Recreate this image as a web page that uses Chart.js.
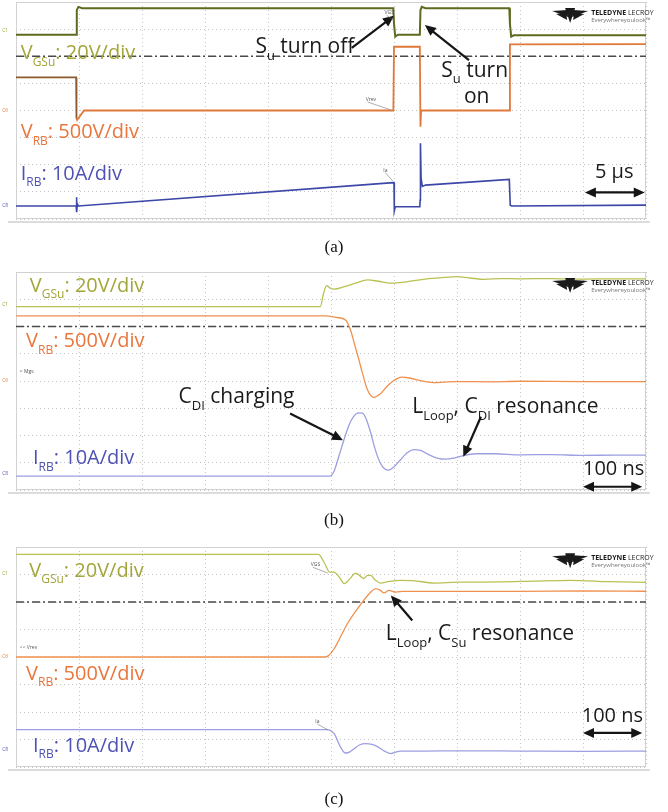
<!DOCTYPE html>
<html>
<head>
<meta charset="utf-8">
<title>Formas de onda de conmutacion de Su</title>
<script src="https://cdn.jsdelivr.net/npm/chart.js@4.4.0/dist/chart.umd.min.js"></script>
<style>
body { margin: 0; background: #fff; }
#pagina { position: relative; width: 668px; height: 812px; overflow: hidden; background: #fff; }
#pagina canvas { position: absolute; left: 0; }
.pie { position: absolute; left: 0; width: 668px; text-align: center; font-family: "Liberation Serif", "Times New Roman", serif; font-size: 17px; line-height: 20px; color: #111; }
.borde { position: absolute; height: 2px; background: #dcdcdc; }
</style>
</head>
<body>
<div id="pagina">
	<canvas id="grafica-a" width="668" height="232" style="top:0px"></canvas>
	<div class="borde" style="left:8px; width:642px; top:221px"></div>
	<div class="pie" style="top:237px">(a)</div>

	<canvas id="grafica-b" width="668" height="236" style="top:262px"></canvas>
	<div class="borde" style="left:8px; width:642px; top:492px"></div>
	<div class="pie" style="top:510px">(b)</div>

	<canvas id="grafica-c" width="668" height="236" style="top:539px"></canvas>
	<div class="borde" style="left:8px; width:642px; top:769px"></div>
	<div class="pie" style="top:789px">(c)</div>
</div>

<script>
// all values in screen divisions: x 0..10, y -4..4

var nivelReferencia = 2;

// (a) 5 us/div
var aVgsT = [0, 0.955, 0.965, 0.99, 1.05, 5.99, 6.0, 6.02, 6.06, 6.41, 6.42, 6.44, 6.5, 7.83, 7.84, 7.86, 7.9, 10];
var aVgsV = [2.79, 2.79, 3.7, 3.82, 3.77, 3.77, 3.2, 2.72, 2.79, 2.79, 3.7, 3.82, 3.77, 3.77, 3.2, 2.72, 2.77, 2.77];

var aVrbT = [0, 0.955, 0.96, 0.97, 1.08, 5.99, 6.0, 6.02, 6.41, 6.42, 6.43, 6.47, 7.83, 7.84, 7.86, 10];
var aVrbV = [1.22, 1.22, -0.3, -0.35, 0, 0, 2.35, 2.35, 2.35, -0.6, 0, 0, 0, 2.44, 2.44, 2.45];

var aIrbT = [0, 0.955, 0.96, 0.965, 0.975, 0.99, 5.99, 6.0, 6.005, 6.02, 6.41, 6.415, 6.42, 6.43, 6.45, 6.5, 7.83, 7.84, 7.845, 7.87, 10];
var aIrbV = [-3.52, -3.52, -3.2, -3.75, -3.45, -3.52, -2.66, -2.66, -3.7, -3.55, -3.55, -3.3, -1.21, -2.5, -2.8, -2.75, -2.54, -2.54, -3.49, -3.52, -3.49];

// (b) 100 ns/div
var bVgsT = [0, 4.83, 4.88, 4.93, 4.98, 5.05, 5.2, 5.4, 5.58, 5.75, 5.95, 6.2, 6.5, 6.8, 7.0, 7.2, 7.43, 7.7, 8.0, 8.5, 9.0, 9.5, 10];
var bVgsV = [2.73, 2.73, 3.2, 3.5, 3.42, 3.37, 3.45, 3.6, 3.71, 3.66, 3.59, 3.64, 3.74, 3.8, 3.83, 3.78, 3.73, 3.76, 3.75, 3.76, 3.74, 3.75, 3.75];

var bVrbT = [0, 4.9, 5.1, 5.23, 5.31, 5.37, 5.44, 5.5, 5.58, 5.68, 5.78, 5.88, 5.97, 6.05, 6.13, 6.25, 6.37, 6.5, 6.63, 6.8, 7.0, 7.5, 8, 9, 10];
var bVrbV = [2.39, 2.39, 2.33, 2.24, 1.87, 1.38, 0.8, 0.28, -0.33, -0.6, -0.48, -0.22, -0.03, 0.09, 0.14, 0.11, 0.04, -0.02, -0.06, -0.04, -0.02, -0.03, -0.01, -0.02, -0.02];

var bIrbT = [0, 4.98, 5.05, 5.12, 5.2, 5.28, 5.36, 5.44, 5.5, 5.56, 5.63, 5.7, 5.78, 5.85, 5.92, 6.0, 6.1, 6.2, 6.32, 6.42, 6.55, 6.7, 6.82, 6.95, 7.1, 7.3, 7.6, 8.0, 8.5, 9.0, 9.5, 10];
var bIrbV = [-3.49, -3.49, -3.3, -2.8, -2.2, -1.65, -1.3, -1.17, -1.18, -1.4, -1.9, -2.5, -3.0, -3.22, -3.27, -3.15, -2.9, -2.65, -2.52, -2.55, -2.7, -2.84, -2.87, -2.83, -2.74, -2.67, -2.67, -2.71, -2.7, -2.73, -2.72, -2.72];

// (c) 100 ns/div
var cVgsT = [0, 4.8, 4.9, 4.98, 5.05, 5.13, 5.21, 5.3, 5.39, 5.46, 5.52, 5.58, 5.63, 5.7, 5.79, 5.9, 6.1, 6.3, 6.63, 7.0, 7.69, 8.2, 8.8, 9.4, 10];
var cVgsV = [3.73, 3.73, 3.4, 3.09, 3.09, 2.91, 2.67, 2.85, 3.05, 2.95, 2.85, 2.97, 2.97, 2.8, 2.69, 2.74, 2.79, 2.78, 2.69, 2.72, 2.73, 2.76, 2.79, 2.74, 2.71];

var cVrbT = [0, 4.9, 4.96, 5.05, 5.26, 5.52, 5.64, 5.71, 5.78, 5.84, 5.92, 6.03, 6.15, 6.5, 7, 8, 9, 10];
var cVrbV = [0, 0, 0.05, 0.3, 1.21, 2.06, 2.38, 2.49, 2.43, 2.33, 2.42, 2.36, 2.39, 2.39, 2.39, 2.39, 2.4, 2.39];

var cIrbT = [0, 4.93, 5.05, 5.15, 5.23, 5.3, 5.37, 5.45, 5.55, 5.65, 5.73, 5.85, 5.95, 6.03, 6.1, 6.5, 7, 8, 9, 10];
var cIrbV = [-2.64, -2.64, -2.79, -3.27, -3.49, -3.45, -3.33, -3.2, -3.15, -3.18, -3.25, -3.42, -3.51, -3.46, -3.42, -3.42, -3.41, -3.42, -3.43, -3.42];

var FUENTE = '"Open Sans", "Noto Sans", sans-serif';
var colorVgsTxt = '#a3a63a';
var colorVrbTxt = '#e9763c';
var colorIrbTxt = '#4e52b4';

function puntos(t, v)
{
	return t.map(function (x, i) { return { x: x, y: v[i] }; });
}

function etiquetasCanal(xVgs, yVgs, xVrb, yVrb, xIrb, yIrb)
{
	return [
		{ tipo: 'texto', x: xVgs, y: yVgs, color: colorVgsTxt, size: 20, partes: [{ t: 'V' }, { t: 'GSu', sub: true }, { t: ': 20V/div' }] },
		{ tipo: 'texto', x: xVrb, y: yVrb, color: colorVrbTxt, size: 20, partes: [{ t: 'V' }, { t: 'RB', sub: true }, { t: ': 500V/div' }] },
		{ tipo: 'texto', x: xIrb, y: yIrb, color: colorIrbTxt, size: 20, partes: [{ t: 'I' }, { t: 'RB', sub: true }, { t: ': 10A/div' }] }
	];
}

function dibujaTexto(ctx, partes, x, y, size, color)
{
	var cx = x;
	ctx.fillStyle = color;
	ctx.textBaseline = 'alphabetic';
	ctx.textAlign = 'left';
	for (var i = 0; i < partes.length; i++)
	{
		var p = partes[i];
		var s = p.sub ? Math.round(size * 0.62) : size;
		ctx.font = (p.bold ? 'bold ' : '') + s + 'px ' + FUENTE;
		ctx.fillText(p.t, cx, y + (p.sub ? size * 0.32 : 0));
		cx += ctx.measureText(p.t).width;
	}
}

function punta(ctx, xa, ya, xb, yb)
{
	var ang = Math.atan2(yb - ya, xb - xa);
	var largo = 11, ancho = 5;
	ctx.beginPath();
	ctx.moveTo(xb, yb);
	ctx.lineTo(xb - largo * Math.cos(ang) + ancho * Math.sin(ang), yb - largo * Math.sin(ang) - ancho * Math.cos(ang));
	ctx.lineTo(xb - largo * Math.cos(ang) - ancho * Math.sin(ang), yb - largo * Math.sin(ang) + ancho * Math.cos(ang));
	ctx.closePath();
	ctx.fill();
}

function dibujaFlecha(ctx, x1, y1, x2, y2, doble)
{
	var ang = Math.atan2(y2 - y1, x2 - x1);
	ctx.save();
	ctx.strokeStyle = '#151515';
	ctx.fillStyle = '#151515';
	ctx.lineWidth = 2.2;
	ctx.beginPath();
	ctx.moveTo(doble ? x1 + 8 * Math.cos(ang) : x1, doble ? y1 + 8 * Math.sin(ang) : y1);
	ctx.lineTo(x2 - 8 * Math.cos(ang), y2 - 8 * Math.sin(ang));
	ctx.stroke();
	punta(ctx, x1, y1, x2, y2);
	if (doble)
		punta(ctx, x2, y2, x1, y1);
	ctx.restore();
}

function dibujaLogo(ctx, x, y)
{
	ctx.save();
	ctx.fillStyle = '#1a1a1a';
	ctx.beginPath();
	ctx.moveTo(x, y + 3); ctx.lineTo(x + 15, y + 2); ctx.lineTo(x + 16, y + 9); ctx.closePath(); ctx.fill();
	ctx.beginPath();
	ctx.moveTo(x + 36, y + 3); ctx.lineTo(x + 21, y + 2); ctx.lineTo(x + 20, y + 9); ctx.closePath(); ctx.fill();
	ctx.beginPath();
	ctx.moveTo(x + 13, y); ctx.lineTo(x + 23, y); ctx.lineTo(x + 18, y + 15); ctx.closePath(); ctx.fill();
	ctx.beginPath();
	ctx.moveTo(x + 4, y + 6); ctx.lineTo(x + 14, y + 5); ctx.lineTo(x + 15, y + 12); ctx.closePath(); ctx.fill();
	ctx.beginPath();
	ctx.moveTo(x + 32, y + 6); ctx.lineTo(x + 22, y + 5); ctx.lineTo(x + 21, y + 12); ctx.closePath(); ctx.fill();
	ctx.textAlign = 'left';
	ctx.textBaseline = 'alphabetic';
	ctx.font = 'bold 7px ' + FUENTE;
	ctx.fillText('TELEDYNE', x + 39, y + 7);
	var w = ctx.measureText('TELEDYNE ').width;
	ctx.font = '7px ' + FUENTE;
	ctx.fillText('LECROY', x + 39 + w, y + 7);
	ctx.fillStyle = '#777';
	ctx.font = '6px ' + FUENTE;
	ctx.fillText('Everywhereyoulook\u2122', x + 39, y + 14);
	ctx.restore();
}

var pluginAnotaciones = {
	id: 'anotaciones',
	beforeDatasetsDraw: function (chart)
	{
		var a = chart.chartArea;
		var ctx = chart.ctx;
		ctx.save();
		ctx.strokeStyle = '#d2d2d2';
		ctx.lineWidth = 1;
		ctx.strokeRect(a.left + 0.5, a.top + 0.5, a.right - a.left - 1, a.bottom - a.top - 1);
		ctx.restore();
	},
	afterDatasetsDraw: function (chart)
	{
		var items = chart.options.plugins.anotaciones.items;
		var sx = chart.scales.x, sy = chart.scales.y;
		var ctx = chart.ctx;
		ctx.save();
		for (var i = 0; i < items.length; i++)
		{
			var it = items[i];
			if (it.tipo === 'texto')
				dibujaTexto(ctx, it.partes, sx.getPixelForValue(it.x), sy.getPixelForValue(it.y), it.size, it.color);
			else if (it.tipo === 'flecha')
				dibujaFlecha(ctx, sx.getPixelForValue(it.x1), sy.getPixelForValue(it.y1), sx.getPixelForValue(it.x2), sy.getPixelForValue(it.y2), it.doble);
			else if (it.tipo === 'logo')
				dibujaLogo(ctx, sx.getPixelForValue(it.x), sy.getPixelForValue(it.y));
			else if (it.tipo === 'marca')
			{
				var px = sx.getPixelForValue(it.x), py = sy.getPixelForValue(it.y);
				ctx.font = '5px ' + FUENTE;
				ctx.fillStyle = it.color || '#555';
				ctx.textAlign = 'left';
				ctx.fillText(it.t, px, py);
				if (it.lx !== undefined)
				{
					ctx.strokeStyle = '#777';
					ctx.lineWidth = 0.6;
					ctx.beginPath();
					ctx.moveTo(px + 2, py + 1);
					ctx.lineTo(sx.getPixelForValue(it.lx), sy.getPixelForValue(it.ly));
					ctx.stroke();
				}
			}
		}
		ctx.restore();
	}
};

function traza(label, t, v, color, ancho, suave)
{
	return {
		label: label,
		data: puntos(t, v),
		borderColor: color,
		borderWidth: ancho,
		pointRadius: 0,
		fill: false,
		tension: 0,
		cubicInterpolationMode: suave ? 'monotone' : 'default'
	};
}

function lineaReferencia()
{
	return {
		label: 'ref',
		data: puntos([0, 10], [nivelReferencia, nivelReferencia]),
		borderColor: '#4a4a4a',
		borderWidth: 1.3,
		borderDash: [8, 3, 2, 3],
		pointRadius: 0,
		fill: false
	};
}

function creaGrafica(id, datasets, padding, items)
{
	var canvas = document.getElementById(id);
	var ctx = canvas.getContext('2d');
	return new Chart(ctx, {
		type: 'line',
		data: { datasets: datasets },
		plugins: [pluginAnotaciones],
		options: {
			responsive: false,
			animation: false,
			events: [],
			layout: { padding: padding },
			plugins: {
				legend: { display: false },
				tooltip: { enabled: false },
				anotaciones: { items: items }
			},
			scales: {
				x: {
					type: 'linear', min: 0, max: 10,
					ticks: { display: false, stepSize: 1 },
					grid: { color: '#c4c4c4', lineWidth: 1, drawTicks: false },
					border: { display: false, dash: [1, 3] }
				},
				y: {
					type: 'linear', min: -4, max: 4,
					ticks: { display: false, stepSize: 1 },
					grid: { color: '#c4c4c4', lineWidth: 1, drawTicks: false },
					border: { display: false, dash: [1, 3] }
				}
			}
		}
	});
}

/*******************************************************************************
 * (a)
 *******************************************************************************/

var trazaVrbA = traza('VRB', aVrbT, aVrbV, '#e0783a', 1.8, false);
trazaVrbA.segment = { borderColor: function (c) { return c.p1.parsed.x <= 0.96 ? '#8c5a2e' : undefined; } };

creaGrafica('grafica-a', [
	traza('VGSu', aVgsT, aVgsV, '#5d6b1f', 2, false),
	trazaVrbA,
	traza('IRB', aIrbT, aIrbV, '#3c47a8', 1.6, false),
	lineaReferencia()
], { left: 16, right: 22, top: 2, bottom: 13 },
etiquetasCanal(0.075, 1.89, 0.075, -1.03, 0.075, -2.56).concat([
	{ tipo: 'texto', x: 3.8, y: 2.11, color: '#1a1a1a', size: 21, partes: [{ t: 'S' }, { t: 'u', sub: true }, { t: ' turn off' }] },
	{ tipo: 'flecha', x1: 5.33, y1: 2.31, x2: 6.0, y2: 3.49 },
	{ tipo: 'texto', x: 6.75, y: 1.25, color: '#1a1a1a', size: 21, partes: [{ t: 'S' }, { t: 'u', sub: true }, { t: ' turn' }] },
	{ tipo: 'texto', x: 7.11, y: 0.28, color: '#1a1a1a', size: 21, partes: [{ t: 'on' }] },
	{ tipo: 'flecha', x1: 7.19, y1: 1.86, x2: 6.49, y2: 3.15 },
	{ tipo: 'texto', x: 9.19, y: -2.5, color: '#1a1a1a', size: 20, partes: [{ t: '5 \u00b5s' }] },
	{ tipo: 'flecha', x1: 9.03, y1: -3.02, x2: 9.98, y2: -3.02, doble: true },
	{ tipo: 'logo', x: 8.51, y: 3.78 },
	{ tipo: 'marca', x: 5.85, y: 3.55, t: 'VGS', lx: 6.0, ly: 3.3 },
	{ tipo: 'marca', x: 5.55, y: 0.35, t: 'Vrev', lx: 5.95, ly: 0.02 },
	{ tipo: 'marca', x: 5.83, y: -2.25, t: 'Ia', lx: 5.98, ly: -2.6 },
	{ tipo: 'marca', x: -0.22, y: 2.9, t: 'C1', color: '#9aa03a' },
	{ tipo: 'marca', x: -0.22, y: -0.05, t: 'C6', color: '#e08040' },
	{ tipo: 'marca', x: -0.22, y: -3.55, t: 'C8', color: '#5a5fb8' }
]));

/*******************************************************************************
 * (b)
 *******************************************************************************/

creaGrafica('grafica-b', [
	traza('VGSu', bVgsT, bVgsV, '#b9c152', 1.3, true),
	traza('VRB', bVrbT, bVrbV, '#f0904e', 1.3, true),
	traza('IRB', bIrbT, bIrbV, '#9c9fe0', 1.3, true),
	lineaReferencia()
], { left: 16, right: 22, top: 10, bottom: 8 },
etiquetasCanal(0.22, 3.28, 0.16, 1.24, 0.27, -3.05).concat([
	{ tipo: 'texto', x: 2.58, y: -0.82, color: '#1a1a1a', size: 21, partes: [{ t: 'C' }, { t: 'DI', sub: true }, { t: ' charging' }] },
	{ tipo: 'flecha', x1: 4.35, y1: -1.19, x2: 5.19, y2: -2.17 },
	{ tipo: 'texto', x: 6.29, y: -1.19, color: '#1a1a1a', size: 21, partes: [{ t: 'L' }, { t: 'Loop', sub: true }, { t: ', C' }, { t: 'DI', sub: true }, { t: ' resonance' }] },
	{ tipo: 'flecha', x1: 7.38, y1: -1.31, x2: 7.1, y2: -2.78 },
	{ tipo: 'texto', x: 9.0, y: -3.45, color: '#1a1a1a', size: 20, partes: [{ t: '100 ns' }] },
	{ tipo: 'flecha', x1: 9.0, y1: -3.88, x2: 9.94, y2: -3.88, doble: true },
	{ tipo: 'logo', x: 8.51, y: 3.78 },
	{ tipo: 'marca', x: 0.06, y: 0.3, t: '\u2248 Mgs' },
	{ tipo: 'marca', x: -0.22, y: 2.75, t: 'C1', color: '#9aa03a' },
	{ tipo: 'marca', x: -0.22, y: -0.05, t: 'C6', color: '#e08040' },
	{ tipo: 'marca', x: -0.22, y: -3.45, t: 'C8', color: '#5a5fb8' }
]));

/*******************************************************************************
 * (c)
 *******************************************************************************/

creaGrafica('grafica-c', [
	traza('VGSu', cVgsT, cVgsV, '#b9c152', 1.3, true),
	traza('VRB', cVrbT, cVrbV, '#f0904e', 1.3, true),
	traza('IRB', cIrbT, cIrbV, '#9c9fe0', 1.3, true),
	lineaReferencia()
], { left: 16, right: 22, top: 8, bottom: 8 },
etiquetasCanal(0.21, 2.91, 0.16, -0.82, 0.27, -3.45).concat([
	{ tipo: 'texto', x: 5.87, y: 0.61, color: '#1a1a1a', size: 21, partes: [{ t: 'L' }, { t: 'Loop', sub: true }, { t: ', C' }, { t: 'Su', sub: true }, { t: ' resonance' }] },
	{ tipo: 'flecha', x1: 6.29, y1: 1.33, x2: 5.95, y2: 2.24 },
	{ tipo: 'texto', x: 8.98, y: -2.36, color: '#1a1a1a', size: 20, partes: [{ t: '100 ns' }] },
	{ tipo: 'flecha', x1: 9.0, y1: -2.76, x2: 9.94, y2: -2.76, doble: true },
	{ tipo: 'logo', x: 8.51, y: 3.77 },
	{ tipo: 'marca', x: 4.68, y: 3.3, t: 'VGS', lx: 4.95, ly: 3.05 },
	{ tipo: 'marca', x: 0.06, y: 0.3, t: '<< Vrev' },
	{ tipo: 'marca', x: 4.75, y: -2.4, t: 'Ia', lx: 4.95, ly: -2.65 },
	{ tipo: 'marca', x: -0.22, y: 3.0, t: 'C1', color: '#9aa03a' },
	{ tipo: 'marca', x: -0.22, y: -0.05, t: 'C6', color: '#e08040' },
	{ tipo: 'marca', x: -0.22, y: -3.4, t: 'C8', color: '#5a5fb8' }
]));
</script>
</body>
</html>
